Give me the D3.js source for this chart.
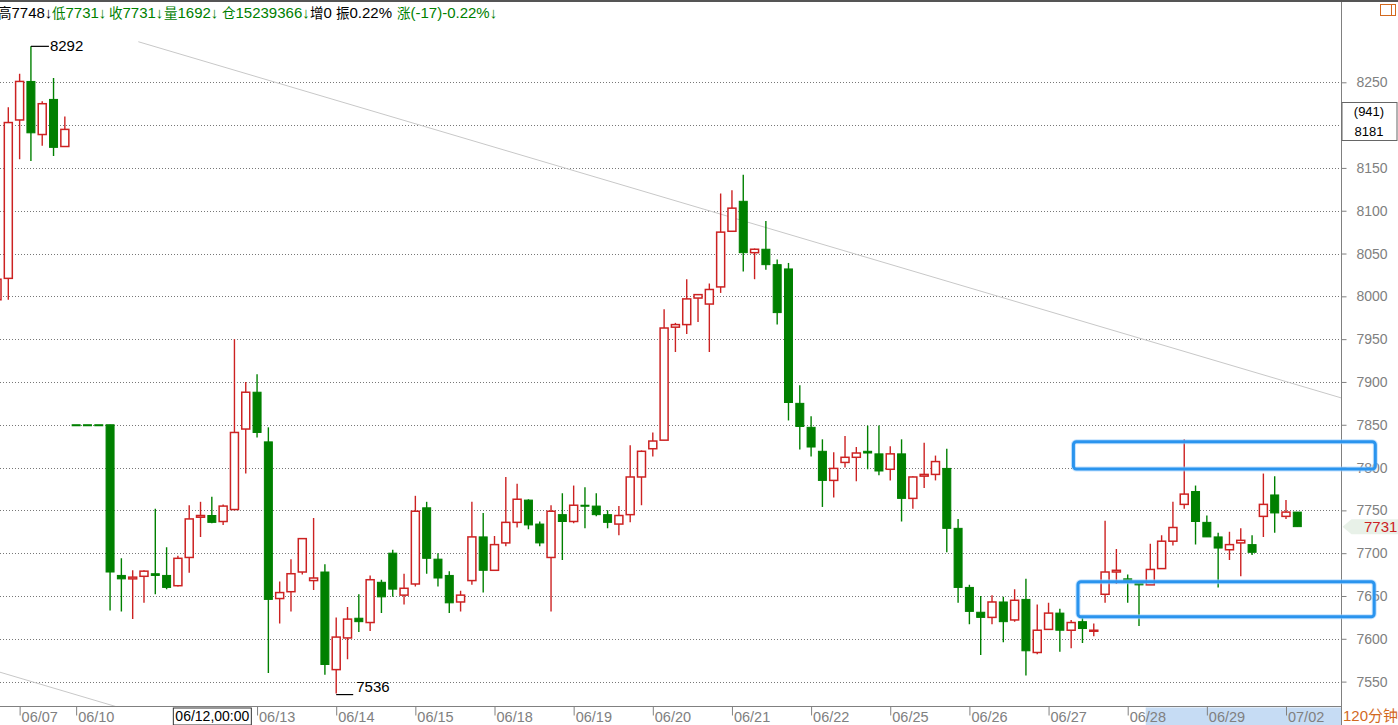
<!DOCTYPE html>
<html>
<head>
<meta charset="utf-8">
<script src="https://cdn.jsdelivr.net/npm/d3@7"></script>
<style>
html,body{margin:0;padding:0;background:#fff;}
svg{display:block;}
</style>
</head>
<body>
<svg id="chart" width="1398" height="725"></svg>
<script>
// ---------- DATA ----------
// 120-minute bars, index = bar position
const opens  = [7996,8021,8206,8251,8189,8230,8175,7850,7850,7850,
                7850,7674,7670,7673,7676,7674,7662,7695,7742,7744,
                7737,7751,7845,7888,7830,7647,7655,7678,7668,7678,
                7564,7601,7624,7619,7666,7700,7651,7664,7753,7693,
                7674,7643,7668,7719,7680,7712,7736,7762,7734,7695,
                7745,7737,7756,7755,7745,7734,7745,7789,7822,7832,
                7964,7967,7998,7991,8011,8076,8111,8051,8055,8037,
                8032,7875,7847,7819,7785,7806,7812,7819,7816,7798,
                7816,7764,7790,7792,7799,7729,7660,7631,7625,7643,
                7622,7646,7584,7611,7630,7610,7620,7609,7652,7678,
                7670,7666,7663,7682,7714,7757,7772,7736,7719,7704,
                7712,7710,7743,7768,7743,7748];
const highs  = [8021,8221,8260,8292,8228,8255,8210,7850,7850,7850,
                7850,7694,7680,7680,7752,7707,7697,7756,7760,7766,
                7757,7950,7900,7909,7847,7667,7693,7717,7741,7687,
                7625,7637,7652,7674,7669,7704,7676,7767,7760,7700,
                7679,7656,7760,7747,7720,7789,7781,7763,7737,7756,
                7770,7779,7777,7770,7750,7755,7826,7820,7841,7985,
                7969,8020,8002,8015,8120,8124,8142,8056,8088,8043,
                8039,7896,7860,7833,7818,7837,7824,7849,7849,7825,
                7833,7790,7829,7814,7822,7740,7663,7650,7651,7649,
                7658,7670,7640,7642,7635,7622,7625,7618,7738,7705,
                7675,7666,7711,7721,7760,7833,7779,7744,7724,7725,
                7729,7721,7793,7790,7762,7748];
const lows   = [7993,7996,8160,8158,8176,8164,8175,7850,7850,7850,
                7633,7632,7623,7642,7652,7658,7661,7677,7719,7735,
                7733,7750,7793,7835,7560,7618,7632,7675,7657,7558,
                7536,7576,7608,7609,7630,7649,7640,7661,7676,7661,
                7630,7632,7663,7654,7680,7708,7730,7728,7708,7632,
                7692,7735,7729,7743,7729,7721,7736,7756,7813,7832,
                7935,7956,7970,7935,8004,8076,8029,8020,8031,7967,
                7855,7821,7813,7754,7765,7800,7784,7798,7791,7785,
                7737,7752,7776,7785,7701,7642,7617,7581,7617,7596,
                7620,7557,7582,7611,7585,7589,7595,7603,7642,7664,
                7642,7615,7663,7682,7709,7752,7710,7719,7660,7692,
                7673,7698,7719,7724,7740,7731];
const closes = [8020,8203,8251,8191,8225,8174,8195,7850,7850,7850,
                7678,7670,7672,7679,7674,7660,7694,7740,7744,7736,
                7755,7841,7888,7841,7646,7654,7676,7717,7671,7570,
                7602,7623,7620,7669,7649,7658,7659,7749,7694,7671,
                7642,7651,7719,7680,7710,7736,7763,7733,7712,7749,
                7737,7756,7756,7745,7736,7744,7789,7819,7831,7963,
                7967,7997,8002,8008,8075,8103,8051,8055,8037,7981,
                7876,7848,7824,7785,7799,7812,7817,7817,7796,7816,
                7764,7789,7792,7807,7729,7660,7632,7625,7643,7620,
                7645,7586,7610,7630,7610,7619,7612,7610,7678,7680,
                7668,7663,7681,7714,7730,7769,7737,7719,7706,7710,
                7715,7701,7757,7747,7748,7731];

// date tick labels (bar index where each session label sits)
const dateTickIdx    = [2, 7, 23, 30, 37, 44, 51, 58, 65, 72, 79, 86, 93, 100, 107, 114];
const dateTickLabels = ["06/07","06/10","06/13","06/14","06/15","06/18","06/19","06/20",
                        "06/21","06/22","06/25","06/26","06/27","06/28","06/29","07/02"];
const priceTicks = [7550,7600,7650,7700,7750,7800,7850,7900,7950,8000,8050,8100,8150,8200,8250];

// header quote line
const headerLabels = ["高7748↓","低7731↓","收7731↓","量1692↓","仓15239366↓","增0","振0.22%","涨(-17)-0.22%↓"];
const headerIsDown = [false, true, true, true, true, false, false, true];

// annotations: trend channel [barIndex, price] pairs
const trendUpper = [[12.5, 8297.4], [118.9, 7881.3]];
const trendLower = [[0, 7562], [12.5, 7513.1]];
// highlighted boxes [startIdx, endIdx, topPrice, bottomPrice]
const boxStart = [95.2, 95.6];
const boxEnd   = [121.9, 121.8];
const boxTop   = [7830.2, 7666.7];
const boxBot   = [7798.3, 7625.8];
// marked extremes
const markHigh = {idx: 3, price: 8292};
const markLow  = {idx: 30, price: 7536};
const cursorIndexText = "(941)";
const cursorPriceText = "8181";
const cursorTimeText = "06/12,00:00";
const cursorTimeIdx = 19;
const periodText = "120分钟";

// ---------- LAYOUT ----------
const W = 1398, H = 725;
const plotRight = 1341.5, plotBottom = 706.5, plotTop = 2;
const RED = "#cc2222", GREEN = "#008000", GRAY = "#808080";
const FONT = "Liberation Sans, Arial, sans-serif";

const svg = d3.select("#chart");
const x = d3.scaleLinear().domain([0, 115]).range([-3, 1297.3]);
const y = d3.scaleLinear().domain([7550, 8250]).range([681.6, 82.3]);

svg.append("rect").attr("width", W).attr("height", H).attr("fill", "#fff");

svg.append("defs").append("clipPath").attr("id", "plotclip")
  .append("rect").attr("x", 0).attr("y", plotTop).attr("width", plotRight).attr("height", plotBottom - plotTop);

// gridlines
svg.append("g").selectAll("line").data(priceTicks).join("line")
  .attr("x1", 0).attr("x2", plotRight - 1)
  .attr("y1", d => Math.round(y(d)) + 0.5).attr("y2", d => Math.round(y(d)) + 0.5)
  .attr("stroke", "#777").attr("stroke-width", 1).attr("stroke-dasharray", "1,2");

const plot = svg.append("g").attr("clip-path", "url(#plotclip)");

// trend lines
const tl = d3.line().x(d => x(d[0])).y(d => y(d[1]));
[trendUpper, trendLower].forEach(t => {
  plot.append("path").attr("d", tl(t)).attr("fill", "none")
    .attr("stroke", "#c8c8c8").attr("stroke-width", 1);
});

// candles
const bars = d3.range(opens.length).map(i => ({i, o: opens[i], h: highs[i], l: lows[i], c: closes[i]}));
const bw = 8;
const cg = plot.append("g");
bars.forEach(b => {
  const up = b.c > b.o;
  const col = up ? RED : GREEN;
  const cx = x(b.i);
  cg.append("line").attr("x1", cx).attr("x2", cx).attr("y1", y(b.h)).attr("y2", y(b.l))
    .attr("stroke", col).attr("stroke-width", 1.4);
  const top = y(Math.max(b.o, b.c)), bot = y(Math.min(b.o, b.c));
  const hgt = Math.max(bot - top, 1);
  cg.append("rect").attr("x", cx - bw / 2).attr("width", bw)
    .attr("y", top).attr("height", hgt)
    .attr("fill", up ? "#fff" : GREEN)
    .attr("stroke", col).attr("stroke-width", up ? 1.5 : 1);
});

// high / low markers
svg.append("path").attr("d", `M${x(markHigh.idx)},${y(markHigh.price)}H${x(markHigh.idx) + 18}`)
  .attr("stroke", "#000").attr("stroke-width", 1.2).attr("fill", "none");
svg.append("text").attr("x", x(markHigh.idx) + 19).attr("y", y(markHigh.price) + 5)
  .attr("font-family", FONT).attr("font-size", 15).attr("fill", "#000")
  .text(markHigh.price);
svg.append("path").attr("d", `M${x(markLow.idx)},${y(markLow.price) + 1}H${x(markLow.idx) + 17}`)
  .attr("stroke", "#000").attr("stroke-width", 1.2).attr("fill", "none");
svg.append("text").attr("x", x(markLow.idx) + 20).attr("y", y(markLow.price) - 2)
  .attr("font-family", FONT).attr("font-size", 15).attr("fill", "#000")
  .text(markLow.price);

// top border
svg.append("line").attr("x1", 0).attr("x2", W).attr("y1", 1).attr("y2", 1)
  .attr("stroke", "#555").attr("stroke-width", 2);

// bottom highlight band (selected range)
svg.append("rect").attr("x", x(100) + 18).attr("y", plotBottom + 1)
  .attr("width", plotRight - (x(100) + 18)).attr("height", H - plotBottom - 1)
  .attr("fill", "#c6dcf4");

// right axis
const ra = svg.append("g").attr("transform", `translate(${plotRight},0)`)
  .call(d3.axisRight(y).tickValues(priceTicks).tickFormat(d3.format("d")).tickSize(5).tickPadding(10));
ra.select(".domain").remove();
ra.selectAll("line").attr("stroke", GRAY);
ra.selectAll("text").attr("fill", GRAY).attr("font-size", 14).attr("font-family", FONT);

// bottom axis
const ba = svg.append("g").attr("transform", `translate(0,${plotBottom})`)
  .call(d3.axisBottom(x).tickValues(dateTickIdx).tickFormat((d, k) => dateTickLabels[k]).tickSize(9));
ba.select(".domain").remove();
ba.selectAll("line").attr("stroke", GRAY);
ba.selectAll("text").attr("fill", GRAY).attr("font-size", 14.5).attr("font-family", FONT)
  .attr("text-anchor", "start").attr("x", 1.5).attr("y", 15.5).attr("dy", 0);

// axis lines
svg.append("line").attr("x1", 0).attr("x2", plotRight).attr("y1", plotBottom).attr("y2", plotBottom)
  .attr("stroke", GRAY).attr("stroke-width", 1);
svg.append("line").attr("x1", plotRight).attr("x2", plotRight).attr("y1", 2).attr("y2", H)
  .attr("stroke", GRAY).attr("stroke-width", 1);

// last price tag
const last = closes[closes.length - 1];
const ly = y(last);
svg.append("path")
  .attr("d", `M${plotRight + 1},${ly}L${plotRight + 10},${ly - 7.5}H${W}V${ly + 7.5}H${plotRight + 10}Z`)
  .attr("fill", "#e8f1e8");
svg.append("text").attr("x", 1364).attr("y", ly + 5.5).attr("fill", RED)
  .attr("font-family", FONT).attr("font-size", 15).text(last);

// cursor price box
svg.append("rect").attr("x", plotRight + 0.5).attr("y", 102.5).attr("width", 55).attr("height", 38)
  .attr("fill", "#fff").attr("stroke", "#666");
svg.append("text").attr("x", 1369).attr("y", 116).attr("text-anchor", "middle")
  .attr("font-family", FONT).attr("font-size", 13).attr("fill", "#000")
  .text(cursorIndexText);
svg.append("text").attr("x", 1369).attr("y", 136).attr("text-anchor", "middle")
  .attr("font-family", FONT).attr("font-size", 13).attr("fill", "#000")
  .text(cursorPriceText);

// cursor time box
const ctx = x(cursorTimeIdx);
svg.append("rect").attr("x", ctx - 38.5).attr("y", plotBottom + 1.5).attr("width", 78).attr("height", 17)
  .attr("fill", "#fff").attr("stroke", "#333");
svg.append("text").attr("x", ctx + 0.5).attr("y", plotBottom + 14.5).attr("text-anchor", "middle")
  .attr("font-family", FONT).attr("font-size", 14).attr("fill", "#000")
  .text(cursorTimeText);

// period label
svg.append("text").attr("x", 1343).attr("y", 721).attr("fill", "#d2691e")
  .attr("font-family", "Liberation Sans, Noto Sans CJK SC, sans-serif").attr("font-size", 15)
  .text(periodText);

// top-right icon
svg.append("rect").attr("x", 1380.5).attr("y", 4.5).attr("width", 15).attr("height", 11)
  .attr("fill", "none").attr("stroke", "#d2691e");
svg.append("line").attr("x1", 1391.5).attr("x2", 1391.5).attr("y1", 4.5).attr("y2", 15.5)
  .attr("stroke", "#d2691e");

// highlight boxes
d3.range(boxStart.length).forEach(k => {
  const bx = x(boxStart[k]), bx2 = x(boxEnd[k]), by = y(boxTop[k]), by2 = y(boxBot[k]);
  svg.append("rect").attr("x", bx).attr("y", by).attr("width", bx2 - bx).attr("height", by2 - by)
    .attr("rx", 3).attr("fill", "none").attr("stroke", "#9fd0ff").attr("stroke-width", 5).attr("opacity", 0.6);
  svg.append("rect").attr("x", bx).attr("y", by).attr("width", bx2 - bx).attr("height", by2 - by)
    .attr("rx", 3).attr("fill", "none").attr("stroke", "#2a94ee").attr("stroke-width", 3);
});

// header quote line (CJK glyphs slightly smaller, as in the reference)
const hx = [-2, 52, 109, 164, 222, 310, 336, 397];
const ht = svg.append("g").selectAll("text").data(headerLabels).join("text")
  .attr("x", (d, k) => hx[k]).attr("y", 18)
  .attr("font-family", "Liberation Sans, Noto Sans CJK SC, sans-serif").attr("font-size", 15)
  .attr("fill", (d, k) => headerIsDown[k] ? GREEN : "#000");
ht.each(function(d) {
  const t = d3.select(this);
  t.append("tspan").attr("font-size", 13.5).text(d.slice(0, 1));
  t.append("tspan").text(d.slice(1));
});
</script>
</body>
</html>
